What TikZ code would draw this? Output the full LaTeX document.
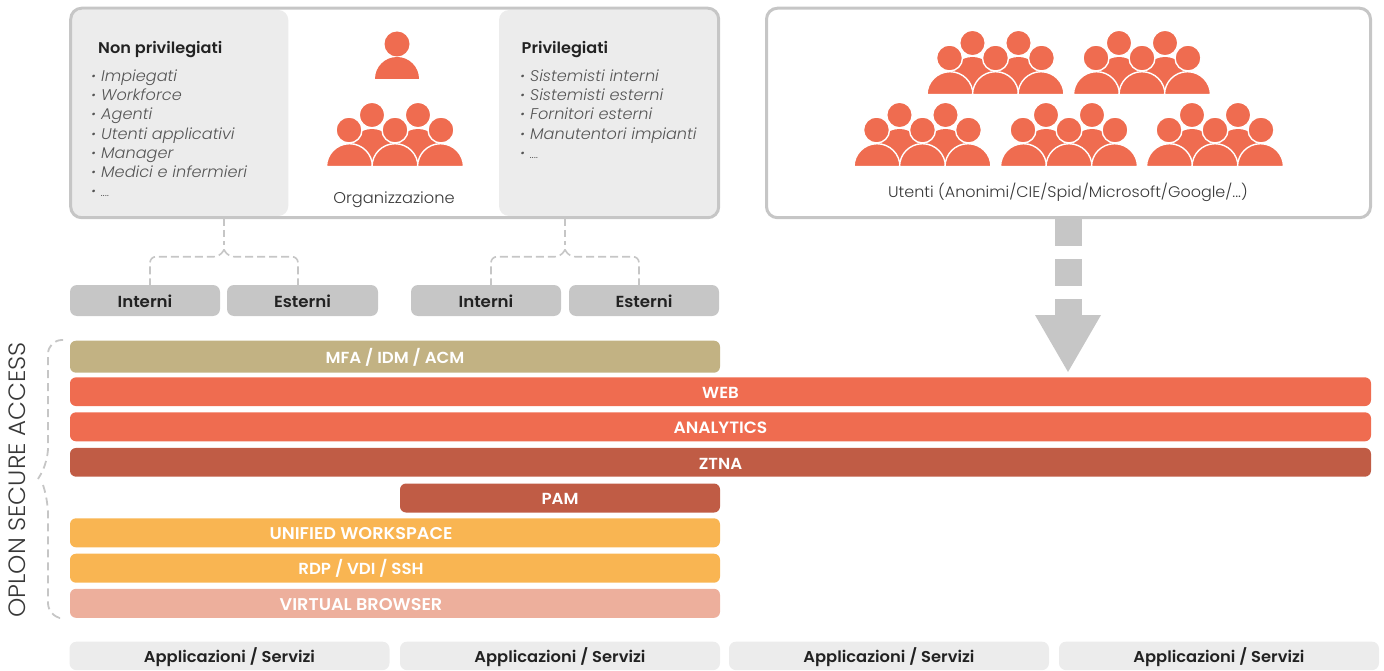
\documentclass[tikz,border=0pt]{standalone}
\usepackage{fontspec}
\setmainfont{Poppins}[FakeStretch=1.04]
\newfontfamily\lightf{Poppins Light}[FakeStretch=1.04]
\newfontfamily\semif{Poppins SemiBold}[FakeStretch=1.04]
\newcommand{\sz}[1]{\fontsize{#1}{#1}\selectfont}
\newcommand{\dotb}{\textbf{·}\kern4.6pt}
\definecolor{coral}{HTML}{EF6C50}
\definecolor{brick}{HTML}{C05C45}
\definecolor{amber}{HTML}{F9B552}
\definecolor{blush}{HTML}{EDAF9C}
\definecolor{khaki}{HTML}{C2B283}
\definecolor{gry}{HTML}{C6C6C6}
\definecolor{lite}{HTML}{ECECEC}
\definecolor{ink}{HTML}{222222}
\definecolor{soft}{HTML}{555555}
\tikzset{
  x=1pt,y=-1pt,
  frame/.style={draw=gry,line width=3pt,rounded corners=11pt,inner sep=0pt,outer sep=0pt,anchor=north west},
  panel/.style={fill=lite,rounded corners=10pt},
  bar/.style={rounded corners=6pt,inner sep=0pt,text=white,font=\semif\sz{16},text height=13.4pt,text depth=0pt},
  tag/.style={fill=gry,rounded corners=7pt,inner sep=0pt,text=ink,font=\semif\sz{16},text height=13.5pt,text depth=0pt},
  app/.style={fill=lite,rounded corners=7pt,inner sep=0pt,text=ink,font=\semif\sz{15.7},text height=13.5pt,text depth=0pt},
  head/.style={font=\semif\sz{15.5},text=ink,anchor=west,inner sep=0pt,text height=10pt,text depth=0pt},
  item/.style={font=\lightf\itshape\sz{15.5},text=soft,anchor=west,inner sep=0pt,text height=10pt,text depth=0pt},
  plain/.style={font=\lightf\sz{15.6},text=ink!90,inner sep=0pt,text height=10pt,text depth=0pt},
  dash line/.style={draw=gry,line width=1.6pt,dash pattern=on 7pt off 4pt,rounded corners=7pt},
  side line/.style={draw=gry,line width=1.8pt,dash pattern=on 8pt off 5pt,rounded corners=14pt},
  crowd/.pic={
    \begin{scope}[fill=coral,draw=white,line width=1.4pt]
      \foreach \c in {45,91}{
        \fill[coral] (\c-22,-15) arc[start angle=180,end angle=360,radius=22] -- (\c,-5) -- cycle;
      }
      \foreach \c in {22.5,68,113.5}{
        \filldraw (\c-23,0.7) arc[start angle=180,end angle=360,radius=23] -- cycle;
      }
      \fill[white] (-2,0) rectangle (140,2);
      \foreach \c in {45,91}{\filldraw (\c,-51) circle[radius=12.8];}
      \foreach \c in {22,68,114}{\filldraw (\c,-36) circle[radius=13];}
    \end{scope}
  },
}
\begin{document}
\begin{tikzpicture}
\useasboundingbox (0,0) rectangle (1384,671);
% panels
\fill[panel] (71,10) rectangle (288.3,216);
\fill[panel] (499,10) rectangle (718,216);
% frames
\node[frame,minimum width=648pt,minimum height=209.5pt] (org) at (70.7,8.2) {};
\node[frame,minimum width=604pt,minimum height=209.5pt] (users) at (766.5,8.2) {};
% left text
\node[head] (np) at (98,48.3) {Non privilegiati};
\node[item] (n1) at (92,76.7) {\dotb Impiegati};
\node[item] (n2) at (92,95.7) {\dotb Workforce};
\node[item] (n3) at (92,115) {\dotb Agenti};
\node[item] (n4) at (92,134.5) {\dotb Utenti applicativi};
\node[item] (n5) at (92,153.7) {\dotb Manager};
\node[item] (n6) at (92,173) {\dotb Medici e infermieri};
\node[item] (n7) at (92,192) {\dotb{\sz{11}....}};
% right text
\node[head] (pr) at (521.5,48.3) {Privilegiati};
\node[item] (p1) at (521,76.7) {\dotb Sistemisti interni};
\node[item] (p2) at (521,96) {\dotb Sistemisti esterni};
\node[item] (p3) at (521,115) {\dotb Fornitori esterni};
\node[item] (p4) at (521,134.3) {\dotb Manutentori impianti};
\node[item] (p5) at (521,153.3) {\dotb{\sz{11}....}};
% people
\fill[coral] (397,44) circle[radius=12.5];
\fill[coral] (375,79) arc[start angle=180,end angle=360,radius=22] -- cycle;
\pic at (327,166) {crowd};
\pic at (927.5,94) {crowd};
\pic at (1074,94) {crowd};
\pic at (854.5,166) {crowd};
\pic at (1001,166) {crowd};
\pic at (1147,166) {crowd};
\node[plain] (lorg) at (394,198.8) {Organizzazione};
\node[plain,font=\lightf\sz{15.35}] (luser) at (1068,193) {Utenti (Anonimi/CIE/Spid/Microsoft/Google/...)};
% tags
\node[tag,minimum width=150pt,minimum height=31pt] (t1) at (145,300.5) {Interni};
\node[tag,minimum width=151pt,minimum height=31pt] (t2) at (302.5,300.5) {Esterni};
\node[tag,minimum width=150pt,minimum height=31pt] (t3) at (486,300.5) {Interni};
\node[tag,minimum width=150pt,minimum height=31pt] (t4) at (644,300.5) {Esterni};
% connectors
\coordinate (a1) at (224,219);\coordinate (j1) at (224,249.5);
\coordinate (a2) at (565,219);\coordinate (j2) at (565,249.5);
\draw[dash line] (a1) -- (224,245);
\draw[dash line,dash pattern=on 8pt off 4pt,rounded corners=6pt] (j1) -- (220,256.7) -- (150,256.7) -- (150,285);
\draw[dash line,dash pattern=on 8pt off 4pt,rounded corners=6pt] (j1) -- (228,256.7) -- (298,256.7) -- (298,285);
\draw[dash line] (a2) -- (565,245);
\draw[dash line,dash pattern=on 8pt off 4pt,rounded corners=6pt] (j2) -- (561,256.7) -- (491,256.7) -- (491,285);
\draw[dash line,dash pattern=on 8pt off 4pt,rounded corners=6pt] (j2) -- (569,256.7) -- (639,256.7) -- (639,285);
% arrow
\fill[gry] (1055,218) rectangle (1082,245.5);
\fill[gry] (1055,259) rectangle (1082,286);
\fill[gry] (1055,299) rectangle (1082,316);
\fill[gry] (1035,315) -- (1101,315) -- (1068,372) -- cycle;
% bars
\node[bar,fill=khaki,minimum width=650pt,minimum height=32pt] (mfa) at (395,356.7) {MFA / IDM / ACM};
\node[bar,fill=coral,minimum width=1301pt,minimum height=28.7pt] (web) at (720.5,391.7) {WEB};
\node[bar,fill=coral,minimum width=1301pt,minimum height=29pt,font=\semif\sz{16.4}] (ana) at (720.5,426.8) {ANALYTICS};
\node[bar,fill=brick,minimum width=1301pt,minimum height=28.7pt] (zt) at (720.5,462.3) {ZTNA};
\node[bar,fill=brick,minimum width=320pt,minimum height=29pt,text height=12.5pt] (pam) at (560,498) {PAM};
\node[bar,fill=amber,minimum width=650pt,minimum height=29pt] (uw) at (395,532.8) {};
\node[bar,fill=amber,minimum width=650pt,minimum height=29pt] (rdp) at (395,568.2) {};
\node[bar,fill=blush,minimum width=650pt,minimum height=29pt] (vb) at (395,603.3) {};
\node[bar,font=\semif\sz{17}] (uwl) at (361,532.8) {UNIFIED WORKSPACE};
\node[bar] (rdpl) at (361,568.2) {RDP / VDI / SSH};
\node[bar,font=\semif\sz{17}] (vbl) at (361,603.3) {VIRTUAL BROWSER};
% apps
\node[app,minimum width=320pt,minimum height=28.5pt] (s1) at (229.5,655.9) {Applicazioni / Servizi};
\node[app,minimum width=320pt,minimum height=28.5pt] (s2) at (560,655.9) {Applicazioni / Servizi};
\node[app,minimum width=320pt,minimum height=28.5pt] (s3) at (889,655.9) {Applicazioni / Servizi};
\node[app,minimum width=320pt,minimum height=28.5pt] (s4) at (1219,655.9) {Applicazioni / Servizi};
% side
\draw[side line] (63,340) -- (48,340) -- (48,462) -- (38,479);
\draw[side line] (43,485) -- (48,500) -- (48,617) -- (59,618);
\node[font=\lightf\sz{23.6},text=ink!90,rotate=90,inner sep=0pt] (side) at (17.5,480) {OPLON SECURE ACCESS};
\end{tikzpicture}
\end{document}
